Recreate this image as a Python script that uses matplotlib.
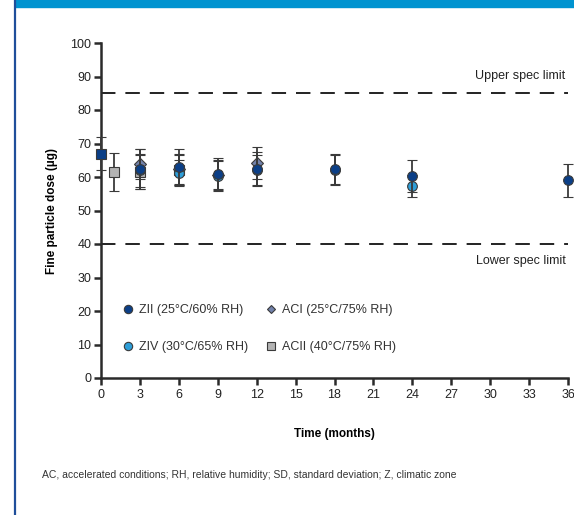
import matplotlib
matplotlib.use('Agg')
import matplotlib.pyplot as plt
from matplotlib.patches import Rectangle
from matplotlib.lines import Line2D

plt.rcParams['font.family'] = ['Liberation Sans', 'DejaVu Sans']

# data
initial_time = [0]
initial_mean = [67]
initial_sd = [5]

zii_time = [3, 6, 9, 12, 18, 24, 36]
zii_mean = [62.5, 63, 61, 62.4, 62.3, 60.3, 59]
zii_sd = [6, 5.4, 4.7, 5, 4.5, 4.7, 5]

ziv_time = [3, 6, 9, 12, 18, 24]
ziv_mean = [62, 61.2, 60.2, 62, 62, 57.3]
ziv_sd = [5, 4, 4.5, 4.5, 4.5, 3.3]

aci_time = [3, 6, 9, 12]
aci_mean = [63.8, 62.5, 60.5, 64.2]
aci_sd = [4.5, 4.5, 4.5, 4.8]

acii_time = [1, 3, 6]
acii_mean = [61.5, 61.5, 62]
acii_sd = [5.7, 5, 4.5]

upper_spec = 85
lower_spec = 40

x_ticks = list(range(0, 37, 3))
y_ticks = list(range(0, 101, 10))

c_zii = '#0b3f87'
c_ziv = '#2e9ed8'
c_aci = '#7282ab'
c_acii = '#b3b3b3'
c_err = '#3a3a3a'
c_edge = '#3a3a3a'

fig = plt.figure(figsize=(5.74, 5.15), dpi=100)
fig.patches.append(Rectangle((15 / 574, 1 - 7 / 515), 1, 7 / 515,
                             transform=fig.transFigure, color='#0093d0', zorder=0))
fig.add_artist(Line2D([14.5 / 574, 14.5 / 574], [0, 1], transform=fig.transFigure,
                      color='#1f4e9a', lw=1.6))

ax = fig.add_axes([101 / 574, 1 - 378 / 515, 467 / 574, 335 / 515])

ax.axhline(upper_spec, color='#111111', lw=1.3, dashes=(8, 5.5), zorder=1)
ax.axhline(lower_spec, color='#111111', lw=1.3, dashes=(8, 5.5), zorder=1)
ax.text(35.8, upper_spec + 3.3, 'Upper spec limit', ha='right', va='bottom',
        fontsize=9, color='#222222')
ax.text(35.8, lower_spec - 3.3, 'Lower spec limit', ha='right', va='top',
        fontsize=9, color='#222222')

err_kw = dict(ls='none', ecolor=c_err, elinewidth=1.3, capsize=3.3, capthick=1.3,
              markeredgecolor=c_edge, markeredgewidth=0.8, clip_on=False)

ax.errorbar(acii_time, acii_mean, yerr=acii_sd, fmt='s', color=c_acii, ms=7,
            zorder=3, **err_kw)
ax.errorbar(aci_time, aci_mean, yerr=aci_sd, fmt='D', color=c_aci, ms=6,
            zorder=4, **err_kw)
ax.errorbar(ziv_time, ziv_mean, yerr=ziv_sd, fmt='o', color=c_ziv, ms=7,
            zorder=5, **err_kw)
ax.errorbar(zii_time, zii_mean, yerr=zii_sd, fmt='o', color=c_zii, ms=7,
            zorder=6, **err_kw)
ax.errorbar(initial_time, initial_mean, yerr=initial_sd, fmt='s', color=c_zii,
            ms=7, zorder=6, **err_kw)

ax.set_xlim(0, 36)
ax.set_ylim(0, 100)
ax.set_xticks(x_ticks)
ax.set_yticks(y_ticks)
for s in ['top', 'right']:
    ax.spines[s].set_visible(False)
for s in ['left', 'bottom']:
    ax.spines[s].set_linewidth(1.8)
    ax.spines[s].set_color('#2a2a2a')
ax.tick_params(axis='both', direction='out', length=5, width=1.8, color='#2a2a2a',
               labelsize=9, labelcolor='#222222')
ax.tick_params(axis='y', pad=2)
ax.tick_params(axis='x', pad=3)

ax.set_xlabel('Time (months)', fontsize=8.5, fontweight='bold', labelpad=19)
ax.set_ylabel('Fine particle dose (µg)', fontsize=8.5, fontweight='bold', labelpad=9)

handles = [
    Line2D([], [], marker='o', ls='none', color=c_zii, mec=c_edge, mew=0.8, ms=6),
    Line2D([], [], marker='o', ls='none', color=c_ziv, mec=c_edge, mew=0.8, ms=6),
    Line2D([], [], marker='D', ls='none', color=c_aci, mec=c_edge, mew=0.8, ms=4.5),
    Line2D([], [], marker='s', ls='none', color=c_acii, mec=c_edge, mew=0.8, ms=6),
]
labels = ['ZII (25°C/60% RH)', 'ZIV (30°C/65% RH)',
          'ACI (25°C/75% RH)', 'ACII (40°C/75% RH)']
ax.legend(handles, labels, ncol=2, frameon=False, fontsize=9, loc='lower left',
          bbox_to_anchor=(0.017, 0.04), handletextpad=0.3, columnspacing=1.2,
          labelspacing=2.0, handlelength=1.2, borderpad=0.4, labelcolor='#333333')

fig.text(42 / 574, 1 - 475 / 515,
         'AC, accelerated conditions; RH, relative humidity; SD, standard deviation; Z, climatic zone',
         fontsize=7.5, color='#333333', va='center', ha='left')

fig.savefig('out.png', dpi=100)
